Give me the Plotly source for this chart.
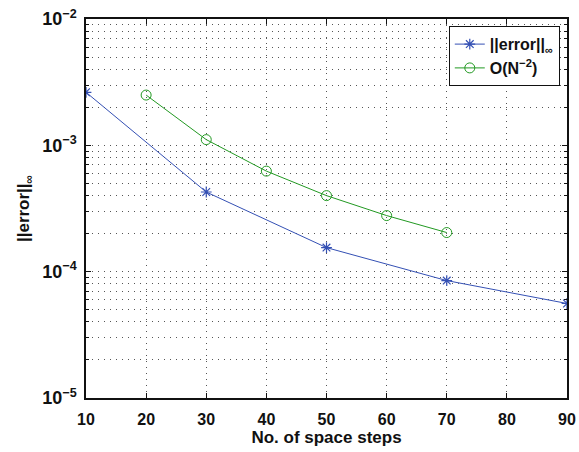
import plotly.graph_objects as go

# Data
x_err = [10, 30, 50, 70, 90]
err_inf = [2.63e-3, 4.27e-4, 1.55e-4, 8.5e-5, 5.6e-5]
x_ref = [20, 30, 40, 50, 60, 70]
ref_order2 = [2.5e-3, 1.11e-3, 6.25e-4, 4.0e-4, 2.78e-4, 2.04e-4]

x_ticks = [10, 20, 30, 40, 50, 60, 70, 80, 90]
y_tickvals = [1e-5, 1e-4, 1e-3, 1e-2]
y_ticktext = ["10<sup>−5</sup>", "10<sup>−4</sup>", "10<sup>−3</sup>", "10<sup>−2</sup>"]

BLUE = "#3450b4"
GREEN = "#229922"
FONT = "Liberation Sans"

fig = go.Figure()
fig.add_trace(go.Scatter(
    x=x_err, y=err_inf, mode="lines+markers",
    name="<b>||error||<sub>∞</sub></b>",
    line=dict(color=BLUE, width=1),
    marker=dict(symbol="asterisk-open", size=9, color=BLUE, line=dict(color=BLUE, width=1.2)),
))
fig.add_trace(go.Scatter(
    x=x_ref, y=ref_order2, mode="lines+markers",
    name="<b>O(N<sup>−2</sup>)</b>",
    line=dict(color=GREEN, width=1),
    marker=dict(symbol="circle-open", size=10, color=GREEN, line=dict(color=GREEN, width=1)),
))

grid_col = "#555555"
dots = "1px,5px"
fig.update_layout(
    width=579, height=452,
    margin=dict(l=86, r=12, t=19, b=54),
    paper_bgcolor="white", plot_bgcolor="white",
    font=dict(family=FONT, size=15, color="#111111"),
    showlegend=True,
    legend=dict(
        x=0.985, y=0.981, xanchor="right", yanchor="top",
        bordercolor="#111111", borderwidth=1, bgcolor="white",
        font=dict(family=FONT, size=16, color="#111111"),
        tracegroupgap=4,
    ),
    xaxis=dict(
        range=[10, 90], tickvals=x_ticks,
        ticktext=["<b>%d</b>" % v for v in x_ticks],
        ticks="inside", ticklen=5, tickcolor="#111111",
        ticklabelstandoff=6, automargin=False,
        showline=True, linecolor="#111111", linewidth=1.5, mirror="allticks",
        showgrid=True, gridcolor=grid_col, griddash=dots, gridwidth=1,
        zeroline=False,
        title=dict(text="<b>No. of space steps</b>", font=dict(size=17, family=FONT), standoff=4),
        tickfont=dict(size=16, family=FONT),
    ),
    yaxis=dict(
        type="log", range=[-5, -2],
        tickvals=y_tickvals, ticktext=["<b>%s</b>" % t for t in y_ticktext],
        ticks="inside", ticklen=5, tickcolor="#111111",
        ticklabelstandoff=4, automargin=False,
        showline=True, linecolor="#111111", linewidth=1.5, mirror="allticks",
        showgrid=True, gridcolor=grid_col, griddash=dots, gridwidth=1,
        minor=dict(ticks="inside", ticklen=3, tickcolor="#111111", dtick="D1",
                   showgrid=True, gridcolor=grid_col, griddash=dots, gridwidth=1),
        zeroline=False,
        title=dict(text="<b>||error||<sub>∞</sub></b>", font=dict(size=17, family=FONT), standoff=8),
        tickfont=dict(size=18, family=FONT),
    ),
)

fig.write_html("out.html")
